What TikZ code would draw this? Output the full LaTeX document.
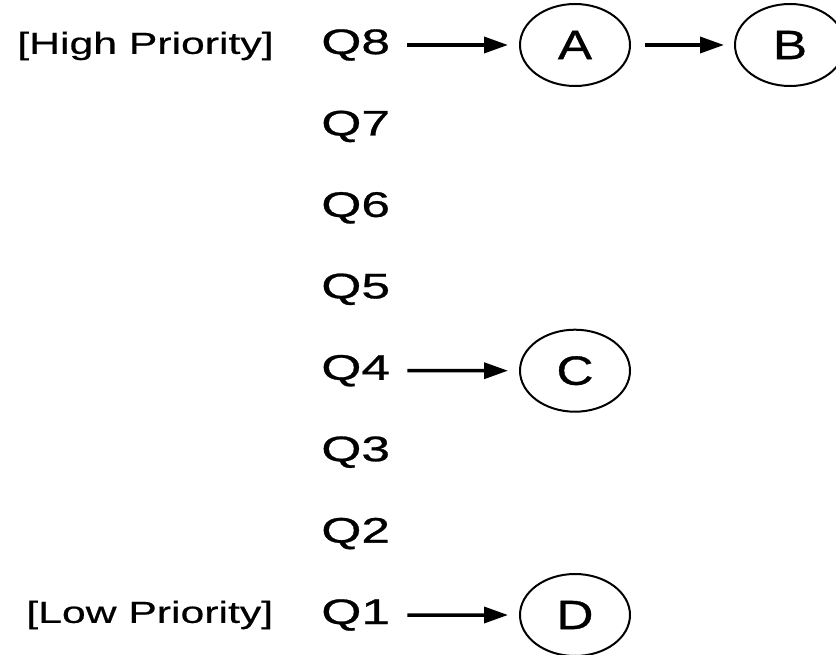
\documentclass[tikz,border=0pt]{standalone}
\usepackage{fontspec}
\setmainfont{Liberation Sans}
\newfontfamily\prifont[FakeStretch=1.4,FakeBold=0.6]{Liberation Sans}
\newfontfamily\qfont[FakeStretch=1.45,FakeBold=0.8]{Liberation Sans}
\newfontfamily\jobfont[FakeStretch=1.25,FakeBold=0.8]{Liberation Sans}
\usetikzlibrary{arrows.meta,shapes.geometric}

\tikzset{every picture/.style={line width=0.75pt}}
\tikzset{
  prio/.style={anchor=west,inner sep=0pt,font=\prifont\fontsize{30.5}{32}\selectfont},
  queue/.style={anchor=west,inner sep=0pt,font=\qfont\fontsize{35.5}{38}\selectfont},
  job/.style={ellipse,draw,line width=2pt,minimum width=110pt,minimum height=82pt,inner sep=0pt,
    font=\jobfont\fontsize{41}{44}\selectfont},
  link/.style={line width=3.5pt,-{Triangle[length=24pt,width=16pt]},shorten <=17pt,shorten >=11pt}
}

\begin{document}
\begin{tikzpicture}[x=1pt,y=1pt,yscale=-1,xscale=1]
\useasboundingbox (0,0) rectangle (836,655);

% Text Node
\node[prio] (high) at (17,46) {[High Priority]};
% Text Node
\node[prio] (low) at (26,615) {[Low Priority]};

% queues, top to bottom
\foreach \q [count=\i from 0] in {8,7,6,5,4,3,2,1}
  \node[queue] (q\q) at (321,45+81.43*\i) {Q\q};

%Shape: Ellipse
\node[job] (a) at (575,45) {A};
\node[job] (b) at (790,45) {B};
\node[job] (c) at (575,370.7) {C};
\node[job] (d) at (575,615) {D};

% arrows
\draw[link] (q8) -- (a);
\draw[link,shorten <=14pt,shorten >=10pt] (a) -- (b);
\draw[link] (q4) -- (c);
\draw[link] (q1) -- (d);

\end{tikzpicture}
\end{document}
